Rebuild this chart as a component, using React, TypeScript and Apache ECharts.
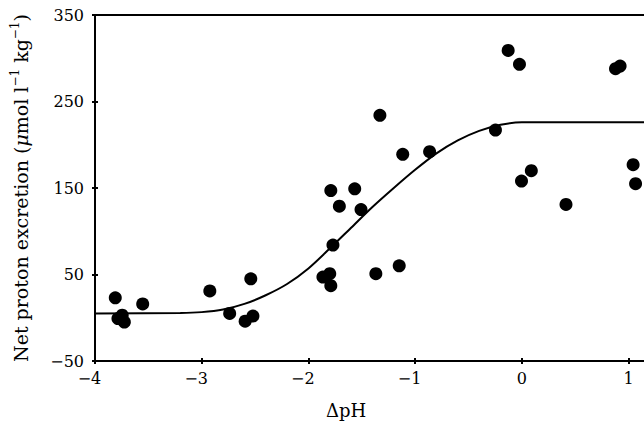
import React, { useEffect, useRef } from "react";
import * as echarts from "echarts";

// Observed points (ΔpH, net proton excretion)
const pointX = [
  -3.81, -3.745, -3.785, -3.725, -3.553, -2.924, -2.738, -2.593, -2.52, -2.54,
  -1.864, -1.8, -1.79, -1.77, -1.79, -1.71, -1.566, -1.507, -1.368, -1.149,
  -1.116, -0.864, -1.33, -0.247, -0.128, -0.022, 0.878, 0.921, -0.003, 0.089,
  0.414, 1.043, 1.066,
];
const pointY = [
  23, 3, -1, -5, 16, 31, 5, -4, 2, 45,
  47, 51, 37, 84, 147, 129, 149, 125, 51, 60,
  189, 192, 234, 217, 309, 293, 288, 291, 158, 170,
  131, 177, 155,
];

// Fitted curve
const curveX = [-4, -3.2, -3.0, -2.8, -2.6, -2.4, -2.2, -2.0, -1.8, -1.6, -1.4, -1.2, -1.0, -0.8, -0.6, -0.4, -0.2, 0, 1.15];
const curveY = [5, 5.5, 6.5, 9.5, 16, 26, 39, 57, 80, 104, 128, 150, 171, 190, 205, 216, 223, 226, 226];

const xTicks = [-4, -3, -2, -1, 0, 1];
const yTicks = [-50, 50, 150, 250, 350];

const X_MIN = -4;
const X_MAX = 1.145;
const Y_MIN = -50;
const Y_MAX = 350;

const FONT = "'DejaVu Serif', 'Liberation Serif', serif";

const fmtY = (v: number) => (v < 0 ? "\u2212" + Math.abs(v) : String(v));
const fmtX = (v: number) => (v < 0 ? "\u2212" + Math.abs(v) + "{pad|}" : String(v));

export default function App() {
  const ref = useRef<HTMLDivElement>(null);
  useEffect(() => {
    if (!ref.current) return;
    const chart = echarts.init(ref.current, undefined, { renderer: "svg" });
    const axisLine = { show: true, onZero: false, lineStyle: { color: "#000", width: 2 } };
    const xBase = {
      type: "value" as const,
      min: X_MIN,
      max: X_MAX,
      splitLine: { show: false },
    };
    const yBase = {
      type: "value" as const,
      min: Y_MIN,
      max: Y_MAX,
      splitLine: { show: false },
    };
    const tickStyle = { color: "#000", width: 2 };
    chart.setOption({
      animation: false,
      backgroundColor: "#fff",
      textStyle: { fontFamily: FONT },
      grid: { left: 95, right: 0, top: 15, bottom: 68, containLabel: false },
      xAxis: [
        {
          ...xBase,
          position: "bottom",
          axisLine,
          axisTick: { show: true, inside: true, length: 3, customValues: xTicks, lineStyle: tickStyle },
          axisLabel: {
            customValues: xTicks,
            formatter: fmtX,
            color: "#000",
            fontFamily: FONT,
            fontSize: 16,
            margin: 9,
            rich: { pad: { width: 11, fontSize: 16, fontFamily: FONT } },
          },
          name: "\u0394pH",
          nameLocation: "middle",
          nameGap: 40,
          nameTextStyle: { color: "#000", fontFamily: FONT, fontSize: 18, padding: [0, 47, 0, 0] },
        },
        {
          ...xBase,
          position: "bottom",
          axisLine: { show: false, onZero: false },
          axisTick: { show: true, inside: false, length: 3, customValues: xTicks, lineStyle: tickStyle },
          axisLabel: { show: false },
        },
        {
          ...xBase,
          position: "top",
          axisLine,
          axisTick: { show: false },
          axisLabel: { show: false },
        },
      ],
      yAxis: [
        {
          ...yBase,
          position: "left",
          axisLine,
          axisTick: { show: true, inside: true, length: 3, customValues: yTicks, lineStyle: tickStyle },
          axisLabel: {
            customValues: yTicks,
            formatter: fmtY,
            color: "#000",
            fontFamily: FONT,
            fontSize: 16,
            margin: 11,
          },
          name: "Net proton excretion ({mu|\u03bc}mol l{sup|\u22121} kg{sup|\u22121})",
          nameLocation: "middle",
          nameGap: 62,
          nameTextStyle: {
            color: "#000",
            fontFamily: FONT,
            fontSize: 19,
            lineHeight: 24,
            rich: {
              mu: { fontFamily: FONT, fontSize: 19, fontStyle: "italic", color: "#000", lineHeight: 24 },
              sup: { fontFamily: FONT, fontSize: 12, color: "#000", verticalAlign: "top", lineHeight: 24, padding: [0, 0, 9, 0] },
            },
          },
        },
        {
          ...yBase,
          position: "left",
          axisLine: { show: false, onZero: false },
          axisTick: { show: true, inside: false, length: 3, customValues: yTicks, lineStyle: tickStyle },
          axisLabel: { show: false },
        },
      ],
      series: [
        {
          type: "line",
          data: curveX.map((x, i) => [x, curveY[i]]),
          showSymbol: false,
          smooth: 0.3,
          lineStyle: { color: "#000", width: 2 },
          silent: true,
          z: 2,
        },
        {
          type: "scatter",
          data: pointX.map((x, i) => [x, pointY[i]]),
          symbol: "circle",
          symbolSize: 13,
          itemStyle: { color: "#000", opacity: 1 },
          z: 3,
        },
      ],
    });
    return () => chart.dispose();
  }, []);
  return (
    <div
      ref={ref}
      style={{ width: 644, height: 429, position: "absolute", left: 0, top: 0, background: "#fff" }}
    />
  );
}
